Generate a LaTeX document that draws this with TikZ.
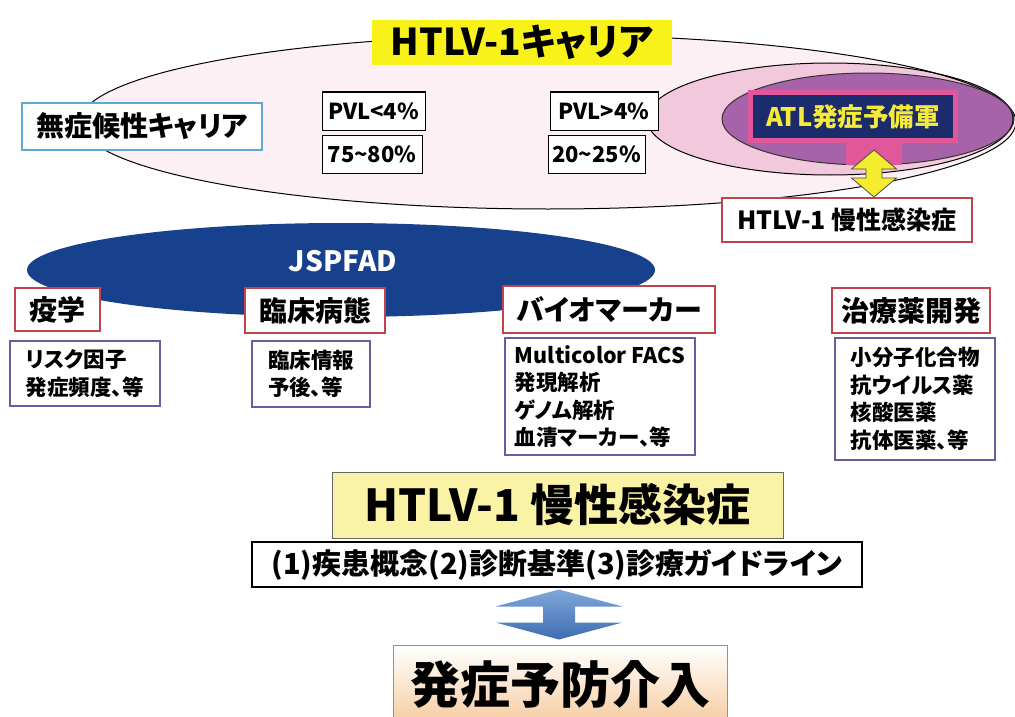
\documentclass[tikz,border=0pt]{standalone}
\usepackage{fontspec}
\setmainfont{Noto Sans CJK JP}[RawFeature={+palt}]
\usetikzlibrary{calc}
\definecolor{bgpink}{HTML}{FCF0F5}
\definecolor{midpink}{HTML}{F2C9DC}
\definecolor{atlpurple}{HTML}{A763AA}
\definecolor{navy}{HTML}{1B2B6C}
\definecolor{hotpink}{HTML}{E0589A}
\definecolor{titleyellow}{HTML}{F9F21A}
\definecolor{atlyellow}{HTML}{F5EA3A}
\definecolor{jspblue}{HTML}{17418C}
\definecolor{catred}{HTML}{C0444C}
\definecolor{detpurple}{HTML}{6A5CA0}
\definecolor{skyedge}{HTML}{5FA8D0}
\definecolor{paleyellow}{HTML}{FAF3A6}
\definecolor{arrowyellow}{HTML}{F4EC2C}
\definecolor{peach}{HTML}{F6CDA2}
\definecolor{peachedge}{HTML}{C87C74}
\definecolor{arrowtop}{HTML}{7FA7D9}
\definecolor{arrowbot}{HTML}{3E6DB0}
\tikzset{
  fsz/.style={font=\bfseries\fontsize{#1}{#1}\selectfont},
  plainbox/.style={draw=black, line width=1pt, fill=white, inner sep=0pt},
  catbox/.style={draw=catred, line width=2pt, fill=white, inner sep=0pt, font=\bfseries\fontsize{28}{34}\selectfont},
  detbox/.style={draw=detpurple, line width=2pt, fill=white, inner sep=0pt, align=left, font=\bfseries\fontsize{21.5}{27.5}\selectfont},
}
\begin{document}
\begin{tikzpicture}[x=1pt,y=-1pt]
\useasboundingbox (0,0) rectangle (1015,717);
% ellipses (fills)
\fill[bgpink] (548,122) ellipse [x radius=468pt, y radius=87pt];
\fill[midpink] (830,119) ellipse [x radius=183pt, y radius=56pt];
\fill[atlpurple] (868,119) ellipse [x radius=146pt, y radius=46pt];
% outlines
\draw[line width=1pt] (548,122) ellipse [x radius=468pt, y radius=87pt];
\draw[line width=1pt] (830,119) ellipse [x radius=183pt, y radius=56pt];
\draw[line width=1pt, draw=black!80] (868,119) ellipse [x radius=146pt, y radius=46pt];
% title
\node[fill=titleyellow, minimum width=300pt, minimum height=45pt, inner sep=0pt,
      fsz=37] (title) at (522,42.5) {HTLV-1キャリア};
% asymptomatic carrier
\node[draw=skyedge, line width=1.3pt, fill=white, minimum width=240pt, minimum height=47pt, inner sep=0pt,
      fsz=28] (asym) at (142,126.5) {無症候性キャリア};
% PVL boxes
\node[plainbox, minimum width=103pt, minimum height=38pt, fsz=22] (pvla) at (373.5,111) {PVL<4\%};
\node[plainbox, minimum width=100pt, minimum height=38pt, fsz=22] (pcta) at (372,154) {75\textasciitilde80\%};
\node[plainbox, minimum width=108pt, minimum height=38pt, fsz=22] (pvlb) at (604,111) {PVL>4\%};
\node[plainbox, minimum width=97pt, minimum height=38pt, fsz=22] (pctb) at (596.5,154) {20\textasciitilde25\%};
% ATL box with pink stem
\node[fill=hotpink, minimum width=56pt, minimum height=25pt, inner sep=0pt] (stem) at (874,152.5) {};
\node[draw=hotpink, line width=5pt, fill=navy, minimum width=205pt, minimum height=48pt, inner sep=0pt,
      text=atlyellow, fsz=25.5] (atl) at (853,116.5) {ATL発症予備軍};
% chronic infection small box
\node[draw=catred, line width=2pt, fill=white, minimum width=250pt, minimum height=44pt, inner sep=0pt,
      fsz=25] (chron) at (847,220) {HTLV-1 慢性感染症};
% yellow double arrow
\draw[fill=arrowyellow, draw=black!70, line width=0.8pt]
  (chron.north -| stem.center) -- ++(-22.5,-19) -- ++(14.5,0) -- ++(0,-9) -- ++(-14.5,0)
  -- ++(22.5,-19) -- ++(22.5,19) -- ++(-14.5,0) -- ++(0,9) -- ++(14.5,0) -- cycle;
% JSPFAD ellipse
\fill[jspblue] (341,270) ellipse [x radius=314pt, y radius=47pt];
\node[text=white, fsz=28] (jsp) at (343,261) {JSPFAD};
% category boxes
\node[catbox, minimum width=85pt, minimum height=43pt] (epi) at (57.5,309.5) {疫学};
\node[catbox, minimum width=140pt, minimum height=45pt] (clin) at (315,310.5) {臨床病態};
\node[catbox, minimum width=212pt, minimum height=47pt] (bio) at (609,309.5) {バイオマーカー};
\node[catbox, minimum width=158pt, minimum height=45pt] (drug) at (911,310.5) {治療薬開発};
% detail boxes
\node[detbox, minimum width=150pt, minimum height=65pt] (depi) at (85,373.5) {リスク因子\\発症頻度、等};
\node[detbox, minimum width=118pt, minimum height=66pt] (dclin) at (311,374) {臨床情報\\予後、等};
\node[detbox, minimum width=190pt, minimum height=117pt] (dbio) at (600,396.5) {Multicolor FACS\\発現解析\\ゲノム解析\\血清マーカー、等};
\node[detbox, minimum width=160pt, minimum height=122pt] (ddrug) at (915,399) {小分子化合物\\抗ウイルス薬\\核酸医薬\\抗体医薬、等};
% big chronic infection box
\node[draw=black!60, line width=1pt, fill=paleyellow, minimum width=451pt, minimum height=66pt, inner sep=0pt,
      fsz=44] (bigchron) at (557.5,505) {HTLV-1 慢性感染症};
\node[draw=black, line width=1.5pt, fill=white, minimum width=610pt, minimum height=45pt, inner sep=0pt,
      fsz=29] (steps) at (557,564.5) {(1)疾患概念(2)診断基準(3)診療ガイドライン};
% bottom box
\node[draw=peachedge, line width=1pt, top color=white, bottom color=peach, minimum width=334pt, minimum height=77pt,
      inner sep=0pt] (prev) at (560,683.5) {};
\node[fsz=50] (prevtxt) at (560,684) {発症予防介入};
% blue double arrow
\shade[top color=arrowtop, bottom color=arrowbot, draw=none]
  ($(prev.north -| steps.south)+(2,-5)$) -- ++(-63.5,-17) -- ++(47.5,0) -- ++(0,-16) -- ++(-47.5,0)
  -- ++(63.5,-17) -- ++(63.5,17) -- ++(-47.5,0) -- ++(0,16) -- ++(47.5,0) -- cycle;
\end{tikzpicture}
\end{document}
